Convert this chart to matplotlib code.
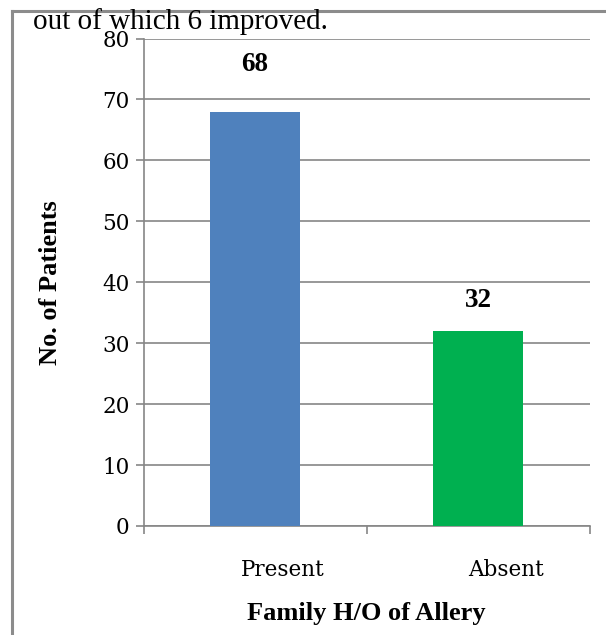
import matplotlib.pyplot as plt
from matplotlib.lines import Line2D
from matplotlib.transforms import ScaledTranslation

categories = ['Present', 'Absent']
patients = [68, 32]
bar_colors = ['#4F81BD', '#00B050']
y_ticks = [0, 10, 20, 30, 40, 50, 60, 70, 80]

grey = '#868686'
serif = 'Liberation Serif'

fig = plt.figure(figsize=(6.06, 6.35), dpi=100)

# page border and the tail of the paragraph above the chart
fig.add_artist(Line2D([12 / 606, 12 / 606], [-0.1, 1 - 11 / 635],
                      transform=fig.transFigure, color='#8c8c8c', lw=2.2))
fig.add_artist(Line2D([12 / 606, 1.1], [1 - 11 / 635, 1 - 11 / 635],
                      transform=fig.transFigure, color='#8c8c8c', lw=2.2))
fig.text(33 / 606, 1 - 29 / 635, 'out of which 6 improved.', family=serif,
         fontsize=21, ha='left', va='baseline')

ax = fig.add_axes([143.5 / 606, 1 - 526 / 635, 446 / 606, 487.5 / 635])

x = list(range(len(categories)))
ax.bar(x, patients, width=0.4, color=bar_colors, zorder=3)

# value labels above each bar
label_offsets = [34, 22]
for xi, v, off in zip(x, patients, label_offsets):
    ax.annotate(str(v), (xi, v), xytext=(0, off), textcoords='offset points',
                ha='center', va='center', family=serif, fontweight='bold',
                fontsize=19.5)

ax.set_xlim(-0.5, len(categories) - 0.5)
ax.set_ylim(0, 80)
ax.set_yticks(y_ticks)
ax.set_yticklabels([str(t) for t in y_ticks], family='DejaVu Serif', fontsize=15.5)
ax.grid(axis='y', color=grey, lw=1.2, zorder=0)

# category boundaries carry the ticks, labels sit between them
ax.set_xticks([i - 0.5 for i in range(len(categories) + 1)])
ax.set_xticklabels([])
ax.set_xticks(x, minor=True)
ax.set_xticklabels(categories, minor=True, family='DejaVu Serif', fontsize=15.5)
ax.tick_params(axis='x', which='minor', length=0, pad=24)
shift = ScaledTranslation(28 / 100, 0, fig.dpi_scale_trans)
for lbl in ax.get_xticklabels(minor=True):
    lbl.set_transform(lbl.get_transform() + shift)

ax.tick_params(axis='both', which='major', direction='out', length=6,
               width=1.2, color=grey)
ax.tick_params(axis='y', pad=4)

for side in ['top', 'right']:
    ax.spines[side].set_visible(False)
for side in ['left', 'bottom']:
    ax.spines[side].set_color(grey)
    ax.spines[side].set_linewidth(1.2)

ax.set_xlabel('Family H/O of Allery', family=serif, fontweight='bold',
              fontsize=19, labelpad=15)
ax.set_ylabel('No. of Patients', family=serif, fontweight='bold',
              fontsize=19, labelpad=29)

fig.savefig('out.png', dpi=100)
